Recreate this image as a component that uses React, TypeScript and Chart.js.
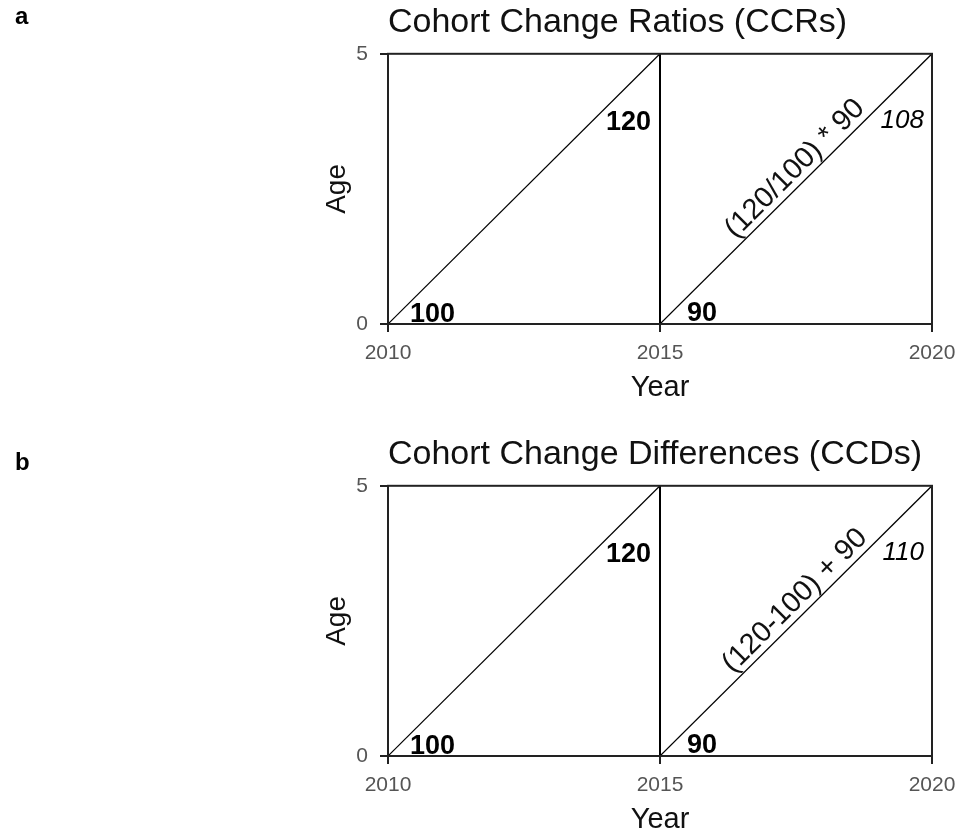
import React, { useEffect, useRef } from "react";
import { Chart, registerables } from "chart.js";
Chart.register(...registerables);

// ---- data ----
const periodYears = [2010, 2015, 2020];
const ageBounds = [0, 5];
const yearTickLabels = ["2010", "2015", "2020"];
const ageTickLabels = ["0", "5"];
const panelLetters = ["a", "b"];
const panelTitles = ["Cohort Change Ratios (CCRs)", "Cohort Change Differences (CCDs)"];
const baseCohortPop = [100, 100];
const laterCohortPop = [120, 120];
const newCohortPop = [90, 90];
const projectedPop = [108, 110];
const formulaText = ["(120/100) * 90", "(120-100) + 90"];

const FONT = '"Liberation Sans", Arial, Helvetica, sans-serif';
const PANEL_H = 432;

function makeLabelPlugin(i: number) {
  return {
    id: "lexisLabels" + i,
    afterDatasetsDraw(chart: any) {
      const { ctx, chartArea, scales } = chart;
      const xs = scales.x;
      const ys = scales.y;
      ctx.save();
      // frame
      ctx.strokeStyle = "#222";
      ctx.lineWidth = 2;
      ctx.strokeRect(chartArea.left, chartArea.top, chartArea.right - chartArea.left, chartArea.bottom - chartArea.top);

      const x0 = xs.getPixelForValue(periodYears[0]);
      const x1 = xs.getPixelForValue(periodYears[1]);
      const x2 = xs.getPixelForValue(periodYears[2]);
      const yb = ys.getPixelForValue(ageBounds[0]);
      const yt = ys.getPixelForValue(ageBounds[1]);

      ctx.fillStyle = "#000";
      ctx.textBaseline = "alphabetic";
      ctx.font = `bold 27px ${FONT}`;
      ctx.textAlign = "left";
      ctx.fillText(String(baseCohortPop[i]), x0 + 22, yb - 2);
      ctx.fillText(String(newCohortPop[i]), x1 + 27, yb - 3);
      ctx.textAlign = "right";
      ctx.fillText(String(laterCohortPop[i]), x1 - 9, yt + 76);
      ctx.font = `italic 26px ${FONT}`;
      ctx.fillText(String(projectedPop[i]), x2 - 8, yt + 74);

      // formula along diagonal
      const ang = Math.atan2(yt - yb, x2 - x1);
      const t = 0.535;
      const cx = x1 + (x2 - x1) * t;
      const cy = yb + (yt - yb) * t;
      ctx.translate(cx, cy);
      ctx.rotate(ang);
      ctx.font = `29px ${FONT}`;
      ctx.textAlign = "center";
      ctx.fillStyle = "#111";
      ctx.fillText(formulaText[i], 0, -7);
      ctx.restore();
    },
  };
}

function Panel({ index }: { index: number }) {
  const ref = useRef<HTMLCanvasElement | null>(null);
  useEffect(() => {
    if (!ref.current) return;
    const pt = (a: number, b: number) => ({ x: periodYears[a], y: ageBounds[b] });
    const lineDs = (data: any[], w: number) => ({
      data,
      borderColor: "#000",
      borderWidth: w,
      pointRadius: 0,
      fill: false,
      tension: 0,
    });
    const chart = new Chart(ref.current, {
      type: "line",
      data: {
        datasets: [
          lineDs([pt(0, 0), pt(1, 1)], 1.2),
          lineDs([pt(1, 0), pt(2, 1)], 1.2),
          lineDs([pt(1, 0), pt(1, 1)], 2),
        ],
      },
      options: {
        responsive: false,
        maintainAspectRatio: false,
        animation: false,
        layout: { padding: { left: 0, right: 26, top: 0, bottom: 0 } },
        plugins: {
          legend: { display: false },
          tooltip: { enabled: false },
          title: {
            display: true,
            text: panelTitles[index],
            align: "start",
            fullSize: false,
            color: "#111",
            font: { family: FONT, size: 34, weight: "normal" },
            padding: { top: 2, bottom: 11 },
          },
        },
        scales: {
          x: {
            type: "linear",
            min: periodYears[0],
            max: periodYears[2],
            afterBuildTicks: (s: any) => {
              s.ticks = periodYears.map((v) => ({ value: v }));
            },
            ticks: {
              callback: (_v: any, idx: number) => yearTickLabels[idx],
              color: "#555",
              font: { family: FONT, size: 21 },
              padding: 9,
              maxRotation: 0,
              autoSkip: false,
            },
            grid: { drawOnChartArea: false, drawTicks: true, tickLength: 8, color: "#222", lineWidth: 2 },
            border: { display: true, color: "#222", width: 2 },
            title: {
              display: true,
              text: "Year",
              color: "#111",
              font: { family: FONT, size: 29 },
              padding: { top: 0, bottom: 27 },
            },
            afterFit: (s: any) => {
              s.height = s.chart.height - 324;
              s.paddingLeft = 0;
              s.paddingRight = 0;
            },
          },
          y: {
            type: "linear",
            min: ageBounds[0],
            max: ageBounds[1],
            afterBuildTicks: (s: any) => {
              s.ticks = ageBounds.map((v) => ({ value: v }));
            },
            ticks: {
              callback: (_v: any, idx: number) => ageTickLabels[idx],
              color: "#555",
              font: { family: FONT, size: 21 },
              padding: 12,
              autoSkip: false,
            },
            grid: { drawOnChartArea: false, drawTicks: true, tickLength: 8, color: "#222", lineWidth: 2 },
            border: { display: true, color: "#222", width: 2 },
            title: {
              display: true,
              text: "Age",
              color: "#111",
              font: { family: FONT, size: 28 },
              padding: { top: 320, bottom: 0 },
            },
            afterFit: (s: any) => {
              s.width = 388;
              s.paddingTop = 0;
              s.paddingBottom = 0;
            },
          },
        },
      } as any,
      plugins: [makeLabelPlugin(index)],
    });
    return () => chart.destroy();
  }, [index]);
  return (
    <div style={{ position: "absolute", left: 0, top: index * PANEL_H, width: 958, height: PANEL_H }}>
      <canvas ref={ref} width={958} height={PANEL_H} style={{ display: "block" }} />
      <div
        style={{
          position: "absolute",
          left: 15,
          top: index === 0 ? 4 : 18,
          font: `bold 24px ${FONT}`,
          lineHeight: "24px",
          color: "#000",
        }}
      >
        {panelLetters[index]}
      </div>
    </div>
  );
}

export default function App() {
  return (
    <div
      style={{
        position: "absolute",
        left: 0,
        top: 0,
        width: 958,
        height: 835,
        overflow: "hidden",
        background: "#fff",
      }}
    >
      <Panel index={0} />
      <Panel index={1} />
    </div>
  );
}
